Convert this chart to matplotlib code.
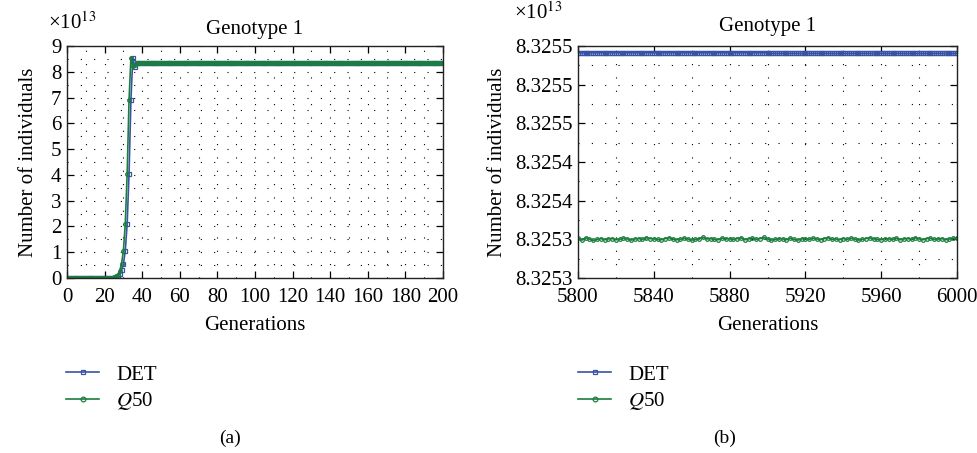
import numpy as np
import matplotlib
matplotlib.use("Agg")
import matplotlib.pyplot as plt
from matplotlib.ticker import MultipleLocator, FixedLocator

plt.rcParams["font.family"] = ["Liberation Serif", "DejaVu Serif"]
plt.rcParams["mathtext.fontset"] = "stix"
FS = 15
plt.rcParams["font.size"] = FS

BLUE = "#3853a4"
GREEN = "#1b7e3e"

# ---- panel (a): generations 0..200, values in units of 1e13
gen_a = np.arange(0, 201)
det_a_head = [0.0] * 25 + [0.01, 0.03, 0.07, 0.15, 0.3, 0.55, 1.05, 2.1, 4.05, 6.9, 8.55, 8.2]
q50_a_head = [0.0] * 24 + [0.01, 0.03, 0.06, 0.13, 0.27, 0.55, 1.05, 2.1, 4.05, 6.9, 8.55, 8.22, 8.28]
plateau_a = 8.3255

det_a = np.array(det_a_head + [plateau_a] * (len(gen_a) - len(det_a_head)))
q50_a = np.array(q50_a_head + [plateau_a] * (len(gen_a) - len(q50_a_head)))

# ---- panel (b): generations 5800..6000
gen_b = np.arange(5800, 6001)
det_b_first = 8.3255412
det_b_second = 8.3255404
det_b = np.where(gen_b < 5900, det_b_first, det_b_second)

# Q50 sampled every 2 generations, deviation from 8.32530 in units of 1e-6
gen_q = np.arange(5800, 6001, 2)
q50_b_dev = [
    1.5, -1.0, 2.0, 0.5, -1.5, 0.0, 1.0, -0.5, 0.5, 1.0,
    -0.5, 0.0, 1.5, 0.5, -1.0, 0.5, 1.0, 0.0, 2.0, 1.0,
    0.5, 0.0, -0.5, 1.0, 2.0, 0.5, -0.5, 0.0, 1.5, 0.5,
    -1.0, 0.0, 1.0, 2.5, 0.5, 1.0, 0.0, -0.5, 1.5, 1.0,
    0.5, 0.0, 1.0, 2.0, -0.5, 0.5, 1.5, 0.0, 1.0, 2.5,
    0.5, -1.0, 0.0, 1.0, 0.5, -0.5, 1.5, 0.0, -1.0, 0.5,
    1.0, 0.0, 1.5, 0.5, -0.5, 1.0, 2.0, 0.0, 0.5, -0.5,
    1.0, 0.0, 1.5, 0.5, -1.0, 0.0, 1.0, 2.0, 0.5, 0.0,
    -0.5, 1.0, 0.5, 0.0, 1.5, -0.5, 0.5, 1.0, 0.0, 2.0,
    0.5, -0.5, 1.0, 1.5, 0.0, 0.5, 1.0, -0.5, 0.5, 1.5,
    2.0,
]
q50_b = 8.32530 + np.array(q50_b_dev) * 1e-6

yticks_b = [8.32525, 8.32530, 8.32535, 8.32540, 8.32545, 8.32550, 8.32555]
yticklabels_b = ["8.3253", "8.3253", "8.3254", "8.3254", "8.3255", "8.3255", "8.3255"]

W, H = 978, 453
fig = plt.figure(figsize=(W / 100, H / 100), dpi=100)
fig.patch.set_facecolor("white")

ax_a = fig.add_axes([67 / W, 1 - 278 / H, 376 / W, 232 / H])
ax_b = fig.add_axes([578 / W, 1 - 278 / H, 379 / W, 232 / H])


def style_axes(ax):
    for sp in ax.spines.values():
        sp.set_linewidth(1.0)
        sp.set_color("#222222")
    ax.tick_params(which="major", direction="in", length=5, width=0.9,
                   top=True, right=True, labelsize=FS)
    ax.tick_params(axis="x", which="major", pad=7)
    ax.tick_params(axis="y", which="major", pad=4)
    ax.tick_params(which="minor", length=0)
    ax.grid(True, which="both", linestyle=(0, (1, 11)), color="black", linewidth=0.8)
    ax.set_axisbelow(True)


mk = dict(lw=1.2, ms=2.6, mfc="none", mew=0.9)

# panel (a)
ax_a.plot(gen_a, det_a, color=BLUE, marker="s", label="DET", **mk)
ax_a.plot(gen_a, q50_a, color=GREEN, marker="o", label="$Q$50", **mk)
ax_a.set_xlim(0, 200)
ax_a.set_ylim(0, 9)
ax_a.xaxis.set_major_locator(MultipleLocator(20))
ax_a.xaxis.set_minor_locator(MultipleLocator(10))
ax_a.yaxis.set_major_locator(MultipleLocator(1))
ax_a.yaxis.set_minor_locator(MultipleLocator(0.5))
style_axes(ax_a)
ax_a.set_title("Genotype 1", fontsize=FS, pad=9)
ax_a.set_xlabel("Generations", labelpad=7)
ax_a.set_ylabel("Number of individuals", labelpad=9)
ax_a.text(-0.05, 1.1, "×10$^{13}$", transform=ax_a.transAxes, fontsize=FS, va="center")

# panel (b)
ax_b.plot(gen_b, det_b, color=BLUE, marker="s", label="DET", **mk)
ax_b.plot(gen_q, q50_b, color=GREEN, marker="o", label="$Q$50", **mk)
ax_b.set_xlim(5800, 6000)
ax_b.set_ylim(yticks_b[0], yticks_b[-1])
ax_b.xaxis.set_major_locator(MultipleLocator(40))
ax_b.xaxis.set_minor_locator(MultipleLocator(20))
ax_b.yaxis.set_major_locator(FixedLocator(yticks_b))
ax_b.set_yticklabels(yticklabels_b)
ax_b.yaxis.set_minor_locator(MultipleLocator(0.000025))
style_axes(ax_b)
ax_b.set_title("Genotype 1", fontsize=FS, pad=11)
ax_b.set_xlabel("Generations", labelpad=7)
ax_b.set_ylabel("Number of individuals", labelpad=6)
ax_b.text(-0.17, 1.14, "×10$^{13}$", transform=ax_b.transAxes, fontsize=FS, va="center")

# legends below each panel
for ax, x0 in [(ax_a, 66 / W), (ax_b, 578 / W)]:
    h, l = ax.get_legend_handles_labels()
    fig.legend(h, l, loc="upper left", bbox_to_anchor=(x0, 1 - 365 / H), frameon=False,
               borderaxespad=0, borderpad=0,
               handlelength=1.6, handletextpad=0.8, labelspacing=0.25, fontsize=FS,
               markerscale=1.3)

fig.text(230 / W, 1 - 438 / H, "(a)", ha="center", va="center", fontsize=FS - 1)
fig.text(725 / W, 1 - 438 / H, "(b)", ha="center", va="center", fontsize=FS - 1)

fig.savefig("out.png", dpi=100)
